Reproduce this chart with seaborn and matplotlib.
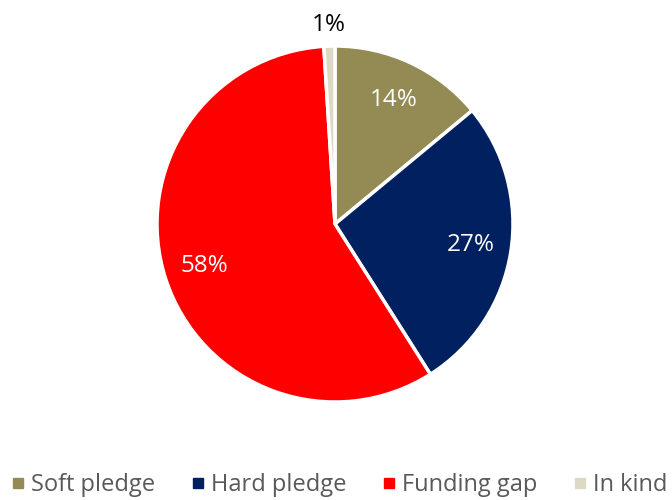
import matplotlib

matplotlib.use("Agg")
import matplotlib.pyplot as plt  # noqa: E402
from matplotlib.lines import Line2D  # noqa: E402
import numpy as np  # noqa: E402
import seaborn as sns  # noqa: E402

sns.set_theme(style="white")
plt.rcParams["font.family"] = ["Open Sans", "DejaVu Sans"]

categories = ["Soft pledge", "Hard pledge", "Funding gap", "In kind"]
shares = [14, 27, 58, 1]
colors = ["#948A54", "#002060", "#FF0000", "#DDD9C4"]

W, H = 672, 500
fig = plt.figure(figsize=(W / 100, H / 100), dpi=100)
cx, cy, r = 335, 224, 178
ax = fig.add_axes([(cx - r) / W, (H - cy - r) / H, 2 * r / W, 2 * r / H])

wedges, _ = ax.pie(shares, colors=colors, startangle=90, counterclock=False,
                   radius=1.0, wedgeprops=dict(edgecolor="white", linewidth=2.5))
ax.set_xlim(-1, 1)
ax.set_ylim(-1, 1)
ax.set_aspect("equal")
ax.axis("off")

# percentage labels: white inside big slices, black outside tiny slice
for w, v in zip(wedges, shares):
    ang = np.deg2rad((w.theta1 + w.theta2) / 2)
    if v >= 5:
        d, col = 0.77, "white"
    else:
        d, col = 1.12, "black"
    ax.text(d * np.cos(ang), d * np.sin(ang), f"{v}%", ha="center", va="center",
            color=col, fontsize=17.5)

handles = [Line2D([0], [0], marker="s", linestyle="", markersize=7.5,
                  markerfacecolor=c, markeredgecolor=c) for c in colors]
leg = fig.legend(handles, categories, loc="center", bbox_to_anchor=(0.502, 1 - 485 / H),
                 ncol=4, frameon=False, fontsize=17, handletextpad=0.1,
                 columnspacing=1.35, handlelength=0.9)
for t in leg.get_texts():
    t.set_color("#595959")

fig.savefig("out.png", dpi=100)
